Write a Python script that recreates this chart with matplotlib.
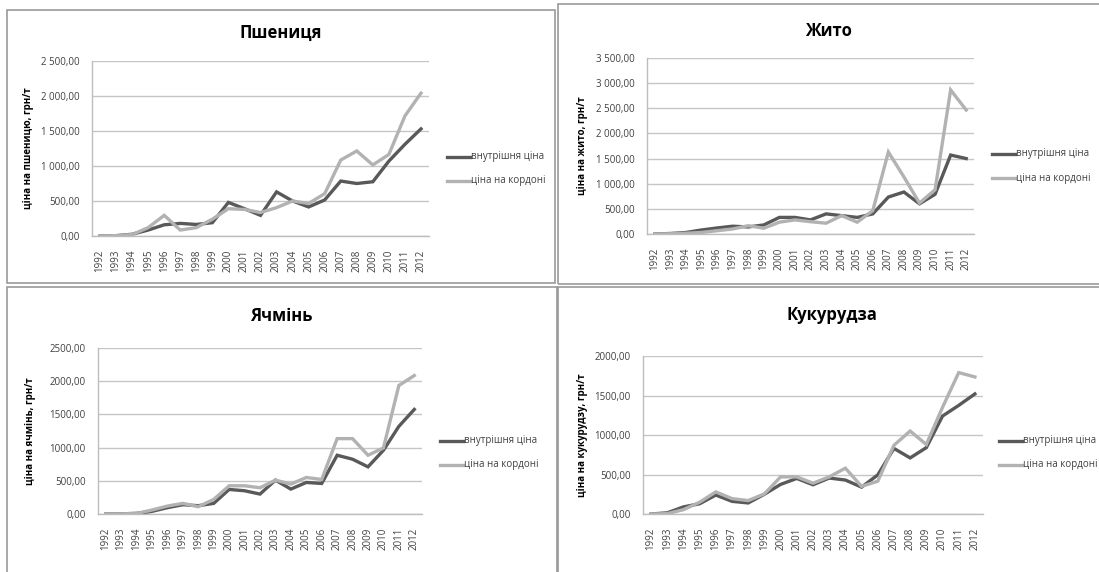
import matplotlib
matplotlib.use("Agg")
import matplotlib.pyplot as plt
from matplotlib.patches import Rectangle
from matplotlib.lines import Line2D
from matplotlib.ticker import FuncFormatter

plt.rcParams['font.family'] = ['Open Sans', 'DejaVu Sans']

years = [str(y) for y in range(1992, 2013)]

wheat_dom = [0, 5, 25, 85, 160, 180, 165, 190, 480, 390, 295, 630, 500, 415, 515, 785, 750, 775, 1070, 1310, 1530]
wheat_brd = [0, 5, 20, 120, 295, 85, 120, 240, 390, 380, 335, 405, 500, 465, 605, 1085, 1215, 1015, 1165, 1715, 2040]

rye_dom = [0, 10, 30, 80, 120, 155, 140, 180, 330, 330, 280, 400, 365, 330, 400, 735, 835, 600, 790, 1570, 1500]
rye_brd = [0, 5, 15, 30, 65, 100, 165, 115, 235, 280, 245, 215, 365, 235, 465, 1630, 1135, 615, 880, 2865, 2465]

barley_dom = [0, 2, 10, 40, 95, 140, 125, 160, 370, 350, 300, 510, 375, 475, 460, 885, 825, 710, 960, 1320, 1575]
barley_brd = [0, 2, 8, 60, 120, 160, 110, 220, 425, 425, 395, 510, 450, 550, 520, 1135, 1135, 885, 995, 1935, 2085]

corn_dom = [0, 15, 90, 130, 240, 160, 140, 250, 375, 450, 370, 455, 430, 340, 495, 830, 710, 840, 1240, 1375, 1520]
corn_brd = [0, 5, 55, 150, 280, 195, 170, 255, 470, 470, 390, 470, 580, 350, 415, 870, 1050, 880, 1350, 1790, 1735]

titles = ["Пшениця", "Жито", "Ячмінь", "Кукурудза"]
ylabels = ["ціна на пшеницю, грн/т", "ціна на жито, грн/т", "ціна на ячмінь, грн/т", "ціна на кукурудзу, грн/т"]
series_names = ["внутрішня ціна", "ціна на кордоні"]

W, H = 1099, 572
fig = plt.figure(figsize=(W / 100, H / 100), dpi=100)
fig.patch.set_facecolor('white')

DARK = '#595959'
LIGHT = '#b2b2b2'
GRID = '#c6c6c6'
TXT = '#404040'
FRAME = '#999999'


def rect(l, t, r, b):
    return [l / W, 1 - b / H, (r - l) / W, (b - t) / H]


def fx(x):
    return x / W


def fy(y):
    return 1 - y / H


def make_fmt(sep):
    def f(v, pos):
        s = f"{v:,.2f}"
        return s.replace(',', 'X').replace('.', ',').replace('X', sep)
    return f


panels = [
    dict(data=(wheat_dom, wheat_brd), plot=(92, 61, 429, 236), ymax=2500, step=500, sep=' ',
         frame=(7, 10, 555, 283), title_xy=(281, 33), ylab_x=28, leg=(447, 157)),
    dict(data=(rye_dom, rye_brd), plot=(647, 58, 974, 234), ymax=3500, step=500, sep=' ',
         frame=(558, 4, 1110, 284), title_xy=(828, 31), ylab_x=582, leg=(992, 154)),
    dict(data=(barley_dom, barley_brd), plot=(98, 348, 422, 514), ymax=2500, step=500, sep='',
         frame=(7, 287, 557, 590), title_xy=(281, 316), ylab_x=30, leg=(440, 441)),
    dict(data=(corn_dom, corn_brd), plot=(643, 356, 983, 514), ymax=2000, step=500, sep='',
         frame=(558, 287, 1110, 590), title_xy=(832, 315), ylab_x=582, leg=(999, 441)),
]

for i, p in enumerate(panels):
    l, t, r, b = p['frame']
    fig.patches.append(Rectangle((fx(l), fy(b)), (r - l) / W, (b - t) / H,
                                 transform=fig.transFigure, fill=False,
                                 edgecolor=FRAME, linewidth=1.2))
    ax = fig.add_axes(rect(*p['plot']))
    x = list(range(len(years)))
    dom, brd = p['data']
    ax.plot(x, dom, color=DARK, linewidth=2.4, solid_joinstyle='miter', zorder=3)
    ax.plot(x, brd, color=LIGHT, linewidth=2.4, solid_joinstyle='miter', zorder=3)
    ax.set_xlim(-0.5, len(years) - 0.5)
    ax.set_ylim(0, p['ymax'])
    ax.set_yticks(range(0, p['ymax'] + 1, p['step']))
    ax.yaxis.set_major_formatter(FuncFormatter(make_fmt(p['sep'])))
    ax.set_xticks(x)
    ax.set_xticklabels(years, rotation=90, fontsize=7, color=TXT)
    ax.tick_params(axis='y', labelsize=7, colors=TXT, length=0, pad=9)
    ax.tick_params(axis='x', length=0, pad=10)
    ax.grid(axis='y', color=GRID, linewidth=1.0, zorder=0)
    for s in ['top', 'right']:
        ax.spines[s].set_visible(False)
    for s in ['left', 'bottom']:
        ax.spines[s].set_color('#bdbdbd')
        ax.spines[s].set_linewidth(1.0)
    ax.set_facecolor('none')

    tx, ty = p['title_xy']
    fig.text(fx(tx), fy(ty), titles[i], fontsize=12, fontweight='bold',
             ha='center', va='center', color='black')
    pl, pt, pr, pb = p['plot']
    fig.text(fx(p['ylab_x']), fy((pt + pb) / 2), ylabels[i], fontsize=7, fontweight='bold',
             rotation=90, ha='center', va='center', color='black')

    lx, ly = p['leg']
    for k, (col, name) in enumerate(zip([DARK, LIGHT], series_names)):
        yy = ly + k * 24
        fig.lines.append(Line2D([fx(lx), fx(lx + 23)], [fy(yy), fy(yy)],
                                transform=fig.transFigure, color=col, linewidth=2.4))
        fig.text(fx(lx + 24), fy(yy), name, fontsize=7, ha='left', va='center', color=TXT)

fig.savefig('out.png', dpi=100, facecolor='white')
